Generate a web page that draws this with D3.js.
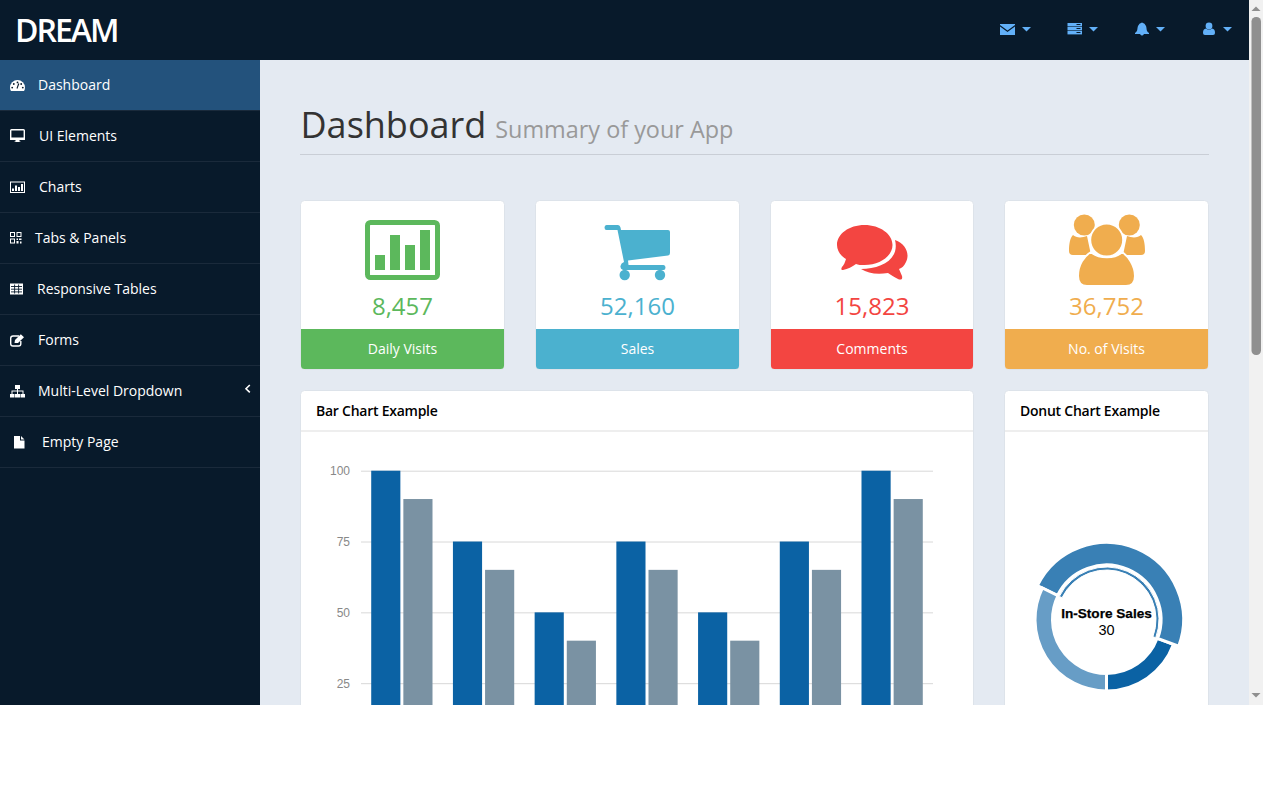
<!DOCTYPE html>
<html>
<head>
<meta charset="utf-8">
<title>Dream Dashboard</title>
<script src="https://cdn.jsdelivr.net/npm/d3@7"></script>
<style>
  html, body { margin: 0; padding: 0; background: #fff; overflow: hidden; }
  svg { display: block; }
  text { font-family: "Open Sans", sans-serif; }
  .chart-text, .chart-text text { font-family: "Liberation Sans", Arial, sans-serif; }
</style>
</head>
<body>
<svg id="page" width="1263" height="705"></svg>
<script>
const navLabels = ["Dashboard", "UI Elements", "Charts", "Tabs & Panels", "Responsive Tables", "Forms", "Multi-Level Dropdown", "Empty Page"];
const navIcons = ["gauge", "desktop", "chart", "qrcode", "table", "edit", "sitemap", "file"];

const cardValues = ["8,457", "52,160", "15,823", "36,752"];
const cardLabels = ["Daily Visits", "Sales", "Comments", "No. of Visits"];
const cardColors = ["#5cb85c", "#4bb1cf", "#f34541", "#f0ad4e"];

const barCategories = ["2006", "2007", "2008", "2009", "2010", "2011", "2012"];
const barSeriesA = [100, 75, 50, 75, 50, 75, 100];
const barSeriesB = [90, 65, 40, 65, 40, 65, 90];
const barTicks = [25, 50, 75, 100];

const donutLabels = ["Download Sales", "In-Store Sales", "Mail-Order Sales"];
const donutValues = [12, 30, 20];
const donutColors = ["#0b62a4", "#3980b5", "#679dc6"];

const svg = d3.select("#page");
const DARK = "#081a2b";
const BLUE = "#62b0f8";

// backgrounds
svg.append("rect").attr("width", 1249).attr("height", 705).attr("fill", "#e4eaf2");
svg.append("rect").attr("width", 1249).attr("height", 60).attr("fill", DARK);
svg.append("rect").attr("y", 60).attr("width", 260).attr("height", 645).attr("fill", DARK);

svg.append("text").attr("x", 15).attr("y", 42)
  .attr("font-size", 32).attr("font-weight", 600).attr("letter-spacing", -2)
  .attr("fill", "#fff").text("DREAM");

// -- small icons, all drawn around their own top-left corner --

const icons = {
  gauge(g) {
    g.append("path").attr("fill", "#fff")
      .attr("d", "M0 7.5A7.5 7.5 0 0 1 15 7.5Q15 9.5 14 11H1Q0 9.5 0 7.5Z");
    g.append("g").attr("fill", DARK).selectAll("circle")
      .data([[2.2, 7.6], [3.8, 4], [7.5, 2.4], [12.8, 7.6], [11.2, 4]]).join("circle")
      .attr("cx", d => d[0]).attr("cy", d => d[1]).attr("r", 0.9);
    g.append("path").attr("d", "M7 8.500L8.800 3.500").attr("stroke", DARK).attr("stroke-width", 1.1);
  },
  desktop(g) {
    g.append("rect").attr("x", 0.7).attr("y", 0.7).attr("width", 13.6).attr("height", 9.6).attr("rx", 0.8)
      .attr("fill", DARK).attr("stroke", "#fff").attr("stroke-width", 1.4);
    g.append("path").attr("fill", "#fff").attr("d", "M0 8.500H15V10.500Q15 11 14 11H1Q0 11 0 10.500ZM5.5 11H9.5V12.5H10.5V13H4.5V12.5H5.5Z");
  },
  chart(g) {
    g.append("rect").attr("x", 0.5).attr("y", 0.5).attr("width", 14).attr("height", 10.5)
      .attr("fill", DARK).attr("stroke", "#fff");
    g.append("path").attr("fill", "#fff").attr("d", "M2 7H4V9.5H2ZM5 4H7V9.5H5ZM8 5.5H10V9.5H8ZM11 2.5H13V9.5H11Z");
  },
  qrcode(g) {
    g.append("path").attr("fill", "#fff").attr("fill-rule", "evenodd")
      .attr("d", "M0 0H5V5H0ZM1 1V4H4V1ZM6.5 0H11.5V5H6.5ZM7.5 1V4H10.5V1ZM0 6.5H5V11.5H0ZM1 7.5V10.5H4V7.5ZM6.5 6.5H8V8H6.5ZM9 6.5H11.5V8H9ZM6.5 9H8.5V11.5H6.5ZM10 9.5H11.5V11.5H10Z");
  },
  table(g) {
    g.append("rect").attr("width", 13).attr("height", 11).attr("fill", "#fff");
    g.append("path").attr("stroke", DARK).attr("stroke-width", 0.9)
      .attr("d", "M1 3H12M1 5.700H12M1 8.400H12M4.600 1V10M8.600 1V10");
  },
  edit(g) {
    g.append("path").attr("fill", "none").attr("stroke", "#fff").attr("stroke-width", 1.4)
      .attr("d", "M9 2H3Q0.7 2 0.7 4.300V9.700Q0.7 12 3 12H8.500Q10.800 12 10.800 9.700V7");
    g.append("path").attr("fill", "#fff").attr("d", "M4.500 9L5 6L10.800 0.300L14 3.200L8 9Z");
  },
  sitemap(g) {
    g.append("path").attr("fill", "#fff")
      .attr("d", "M5 0H10V4H8V5.5H13.5V9H15V12.5H10.5V9H12.5V6.5H8V9H10V12.5H5V9H7V6.5H2.5V9H4.5V12.5H0V9H1.5V5.5H7V4H5Z");
  },
  file(g) {
    g.append("path").attr("fill", "#fff").attr("d", "M0 0H6V4.5H10.5V12.5H0ZM7 0L10.5 3.5H7Z");
  }
};
// icon box and where the label starts, the icon font gives each glyph its own width
const iconBox = {
  gauge: [10, 80, 38], desktop: [10, 129, 39], chart: [10, 181.5, 39], qrcode: [10, 232, 35],
  table: [10, 283.5, 37], edit: [10, 334, 38], sitemap: [10, 385, 38], file: [14, 436, 42]
};

// -- sidebar --

const navY = d3.scaleBand().domain(navLabels).range([60, 60 + 51 * navLabels.length]);

const navRows = svg.append("g").selectAll("g").data(navLabels).join("g");
navRows.append("rect")
  .attr("y", d => navY(d)).attr("width", 260).attr("height", 50)
  .attr("fill", (d, i) => i === 0 ? "#23527c" : DARK);
navRows.append("rect")
  .attr("y", d => navY(d) + 50).attr("width", 260).attr("height", 1).attr("fill", "#1a2a3b");
navRows.append("text")
  .attr("x", (d, i) => iconBox[navIcons[i]][2]).attr("y", d => navY(d) + 30)
  .attr("font-size", 14).attr("fill", "#fff").text(d => d);
navRows.each(function (d, i) {
  const box = iconBox[navIcons[i]];
  const g = d3.select(this).append("g").attr("transform", `translate(${box[0]},${box[1]})`);
  icons[navIcons[i]](g);
});
svg.append("path").attr("fill", "none").attr("stroke", "#fff").attr("stroke-width", 1.6)
  .attr("d", "M249.8 385L246 388.7L249.8 392.4");

// -- top bar icons --

const topIconX = [1000, 1067.5, 1135, 1203];
const topCaretX = [1022, 1089, 1156, 1223];
const topBar = svg.append("g");
topBar.append("g").attr("fill", BLUE).selectAll("path").data(topCaretX).join("path")
  .attr("d", x => `M${x} 27H${x + 9}L${x + 4.5} 31.5Z`);

topBar.append("path").attr("fill", BLUE)
  .attr("d", `M${topIconX[0]} 24H${topIconX[0] + 15}V25L${topIconX[0] + 7.5} 30.5L${topIconX[0]} 25ZM${topIconX[0]} 26.5L${topIconX[0] + 7.5} 32L${topIconX[0] + 15} 26.5V35H${topIconX[0]}Z`);
topBar.append("g").attr("fill", BLUE).selectAll("rect").data([23, 27, 31]).join("rect")
  .attr("x", topIconX[1]).attr("y", d => d).attr("width", 14.5).attr("height", 3.4);
topBar.append("g").attr("fill", DARK).selectAll("rect").data([24, 28, 32]).join("rect")
  .attr("x", topIconX[1] + 9).attr("y", d => d).attr("width", 4).attr("height", 1);
topBar.append("path").attr("fill", BLUE)
  .attr("d", `M${topIconX[2]} 33C${topIconX[2] + 3} 31 ${topIconX[2] + 2} 29 ${topIconX[2] + 3} 26Q${topIconX[2] + 4} 23 ${topIconX[2] + 7} 22.5Q${topIconX[2] + 10} 23 ${topIconX[2] + 11} 26C${topIconX[2] + 12} 29 ${topIconX[2] + 11} 31 ${topIconX[2] + 14} 33V34H${topIconX[2] + 9}Q${topIconX[2] + 7} 37 ${topIconX[2] + 5} 34H${topIconX[2]}Z`);
topBar.append("circle").attr("cx", topIconX[3] + 6).attr("cy", 26).attr("r", 3.4).attr("fill", BLUE);
topBar.append("path").attr("fill", BLUE)
  .attr("d", `M${topIconX[3]} 33C${topIconX[3]} 30 ${topIconX[3] + 1} 29 ${topIconX[3] + 3} 28.5Q${topIconX[3] + 6} 31 ${topIconX[3] + 9} 28.5C${topIconX[3] + 11} 29 ${topIconX[3] + 12} 30 ${topIconX[3] + 12} 33Q${topIconX[3] + 12} 35 ${topIconX[3] + 10} 35H${topIconX[3] + 2}Q${topIconX[3]} 35 ${topIconX[3]} 33Z`);

// -- page heading --

const heading = svg.append("text").attr("x", 300.5).attr("y", 138).attr("font-size", 36).attr("fill", "#333");
heading.append("tspan").text("Dashboard");
heading.append("tspan").attr("dx", 9).attr("font-size", 23.4).attr("fill", "#999").text("Summary of your App");
svg.append("rect").attr("x", 300).attr("y", 154).attr("width", 909).attr("height", 1).attr("fill", "#c9ced6");

// -- stat cards --

const cardLeft = [300.5, 535.5, 770.5, 1004.5];
const cardW = [204, 204, 203, 204];
const cards = svg.append("g").selectAll("g").data(cardValues).join("g")
  .attr("transform", (d, i) => `translate(${cardLeft[i]},200.5)`);
cards.append("rect").attr("width", (d, i) => cardW[i]).attr("height", 169).attr("rx", 4)
  .attr("fill", "#fff").attr("stroke", "#dde3ea");
cards.append("path")
  .attr("fill", (d, i) => cardColors[i])
  .attr("d", (d, i) => `M0.5 128.5H${cardW[i] - 0.5}V165Q${cardW[i] - 0.5} 168.5 ${cardW[i] - 4} 168.5H4Q0.5 168.5 0.5 165Z`);
cards.append("text")
  .attr("x", (d, i) => cardW[i] / 2).attr("y", 114.5)
  .attr("text-anchor", "middle").attr("font-size", 24)
  .attr("fill", (d, i) => cardColors[i]).text(d => d);
cards.append("text")
  .attr("x", (d, i) => cardW[i] / 2).attr("y", 153.5)
  .attr("text-anchor", "middle").attr("font-size", 14)
  .attr("fill", "#fff").text((d, i) => cardLabels[i]);

// big card icons, page coordinates
const big = svg.append("g");

big.append("rect").attr("x", 367.5).attr("y", 222.5).attr("width", 70).attr("height", 55).attr("rx", 3)
  .attr("fill", "none").attr("stroke", cardColors[0]).attr("stroke-width", 5);
big.append("path").attr("fill", cardColors[0])
  .attr("d", "M375 255H385V270H375ZM390 235H400V270H390ZM405 245H415V270H405ZM420 230H430V270H420Z");

big.append("path").attr("fill", cardColors[1])
  .attr("d", "M606.5 225H618Q620 225 620.5 227.5L621 230H668Q670 230 670 232V253Q670 255 668 255.5L628 260.5L628.500 265H663.5Q665.5 265 665.5 267.5T663.5 270H623Q620 269 620.5 266Q621 263 624 262L617.5 230H606.5Q604.5 230 604.5 227.5T606.5 225Z");
big.append("g").attr("fill", cardColors[1]).selectAll("circle").data([624.7, 660]).join("circle")
  .attr("cx", d => d).attr("cy", 275).attr("r", 5.2);

big.append("path").attr("fill", cardColors[2])
  .attr("d", "M895 240C906 244 910 254 906 262C904 266 902 268 899 269L902 276C903 280 900 280 898 279C894 277 891 275 888 273C876 275 868 273 861 269C880 269 900 260 895 240Z");
big.append("path").attr("fill", cardColors[2])
  .attr("d", "M864.5 225C880 225 892.5 234 892.5 245C892.5 256 880 265 864.5 265C861 265 858 265 856 264C852 267 848 269 843 270C841 270 841 269 842 267C844 265 845 262 846 259C841 256 837 251 837 245C837 234 849 225 864.5 225Z");

big.append("g").attr("fill", cardColors[3]).selectAll("circle").data([1084.3, 1129.3]).join("circle")
  .attr("cx", d => d).attr("cy", 225).attr("r", 10.5);
big.append("path").attr("fill", cardColors[3])
  .attr("d", "M1073 235C1076 238 1082 238 1087 236L1091 255H1073Q1069 255 1069 251C1069 244 1070 238 1073 235ZM1141 235C1138 238 1132 238 1127 236L1123 255H1141Q1145 255 1145 251C1145 244 1144 238 1141 235Z");
big.append("circle").attr("cx", 1106.7).attr("cy", 240).attr("r", 16.5)
  .attr("fill", cardColors[3]).attr("stroke", "#fff").attr("stroke-width", 2);
big.append("path").attr("fill", cardColors[3]).attr("stroke", "#fff").attr("stroke-width", 2)
  .attr("d", "M1091 252C1098 259 1116 259 1122 252C1128 256 1135 265 1135 276Q1135 286 1126 286H1087Q1078 286 1078 276C1078 265 1084 256 1091 252Z");

// -- panels --

const panels = svg.append("g").selectAll("g")
  .data([["Bar Chart Example", 300.5, 673], ["Donut Chart Example", 1004.5, 204]]).join("g")
  .attr("transform", d => `translate(${d[1]},390.5)`);
panels.append("rect").attr("width", d => d[2]).attr("height", 360).attr("rx", 4)
  .attr("fill", "#fff").attr("stroke", "#dde3ea");
panels.append("rect").attr("x", 0.5).attr("y", 40).attr("width", d => d[2] - 1).attr("height", 1).attr("fill", "#ddd");
panels.append("text").attr("x", 15.5).attr("y", 25.5).attr("font-size", 14).attr("font-weight", 600)
  .attr("letter-spacing", -0.25).attr("fill", "#000").text(d => d[0]);

// -- bar chart --

const x = d3.scaleBand().domain(barCategories).range([361, 933]).paddingInner(0.25).paddingOuter(0.125);
const xInner = d3.scaleBand().domain([0, 1]).range([0, x.bandwidth()]).paddingInner(0.093);
const y = d3.scaleLinear().domain([0, 100]).range([754, 470.7]);

const yAxis = svg.append("g").attr("class", "chart-text").attr("transform", "translate(361,0)")
  .call(d3.axisLeft(y).tickValues(barTicks).tickSize(-572).tickPadding(11));
yAxis.select(".domain").remove();
yAxis.selectAll("line").attr("stroke", "#d8d8d8");
yAxis.selectAll("text").attr("font-size", 12).attr("fill", "#888");

const barColors = ["#0b62a4", "#7a92a3"];
[barSeriesA, barSeriesB].forEach((series, s) => {
  svg.append("g").attr("fill", barColors[s]).selectAll("rect").data(series).join("rect")
    .attr("x", (d, i) => x(barCategories[i]) + xInner(s))
    .attr("y", d => y(d))
    .attr("width", xInner.bandwidth())
    .attr("height", d => y(0) - y(d));
});

// -- donut chart --
// the selected slice sits further out than the others, so the ring is off centre in the panel

const donut = svg.append("g").attr("transform", "translate(1106.5,619.5)");
const pie = d3.pie().sort(null).startAngle(Math.PI).endAngle(-Math.PI);
const slices = pie(donutValues);
const selected = donutLabels.indexOf("In-Store Sales");

donut.selectAll("path.slice").data(slices).join("path")
  .attr("class", "slice")
  .attr("d", (d, i) => i === selected
    ? d3.arc().innerRadius(54.5).outerRadius(77)(d)
    : d3.arc().innerRadius(54).outerRadius(71.5)(d))
  .attr("fill", (d, i) => donutColors[i])
  .attr("stroke", "#fff").attr("stroke-width", 3);
// thin ring that marks the selected slice
donut.append("path")
  .attr("d", d3.arc().innerRadius(49.5).outerRadius(52.5)(slices[selected]))
  .attr("fill", donutColors[selected])
  .attr("stroke", "#fff").attr("stroke-width", 1);

const donutText = donut.append("g").attr("class", "chart-text").attr("text-anchor", "middle");
donutText.append("text").attr("y", -2).attr("font-size", 13.6).attr("font-weight", 700)
  .attr("stroke", "#000").attr("stroke-width", 0.25)
  .attr("fill", "#000").text(donutLabels[selected]);
donutText.append("text").attr("y", 15.5).attr("font-size", 14.5)
  .attr("fill", "#000").text(donutValues[selected]);

// -- scrollbar --

const bar = svg.append("g");
bar.append("rect").attr("x", 1249).attr("width", 14).attr("height", 705).attr("fill", "#f1f1f1");
bar.append("rect").attr("x", 1251.5).attr("y", 17).attr("width", 9.5).attr("height", 338).attr("rx", 4.5).attr("fill", "#8f8f8f");
bar.append("path").attr("fill", "#8f8f8f").attr("d", "M1251.5 11H1260.5L1256 6.5Z");
bar.append("path").attr("fill", "#8f8f8f").attr("d", "M1251.5 693H1260.5L1256 697.5Z");
</script>
</body>
</html>
